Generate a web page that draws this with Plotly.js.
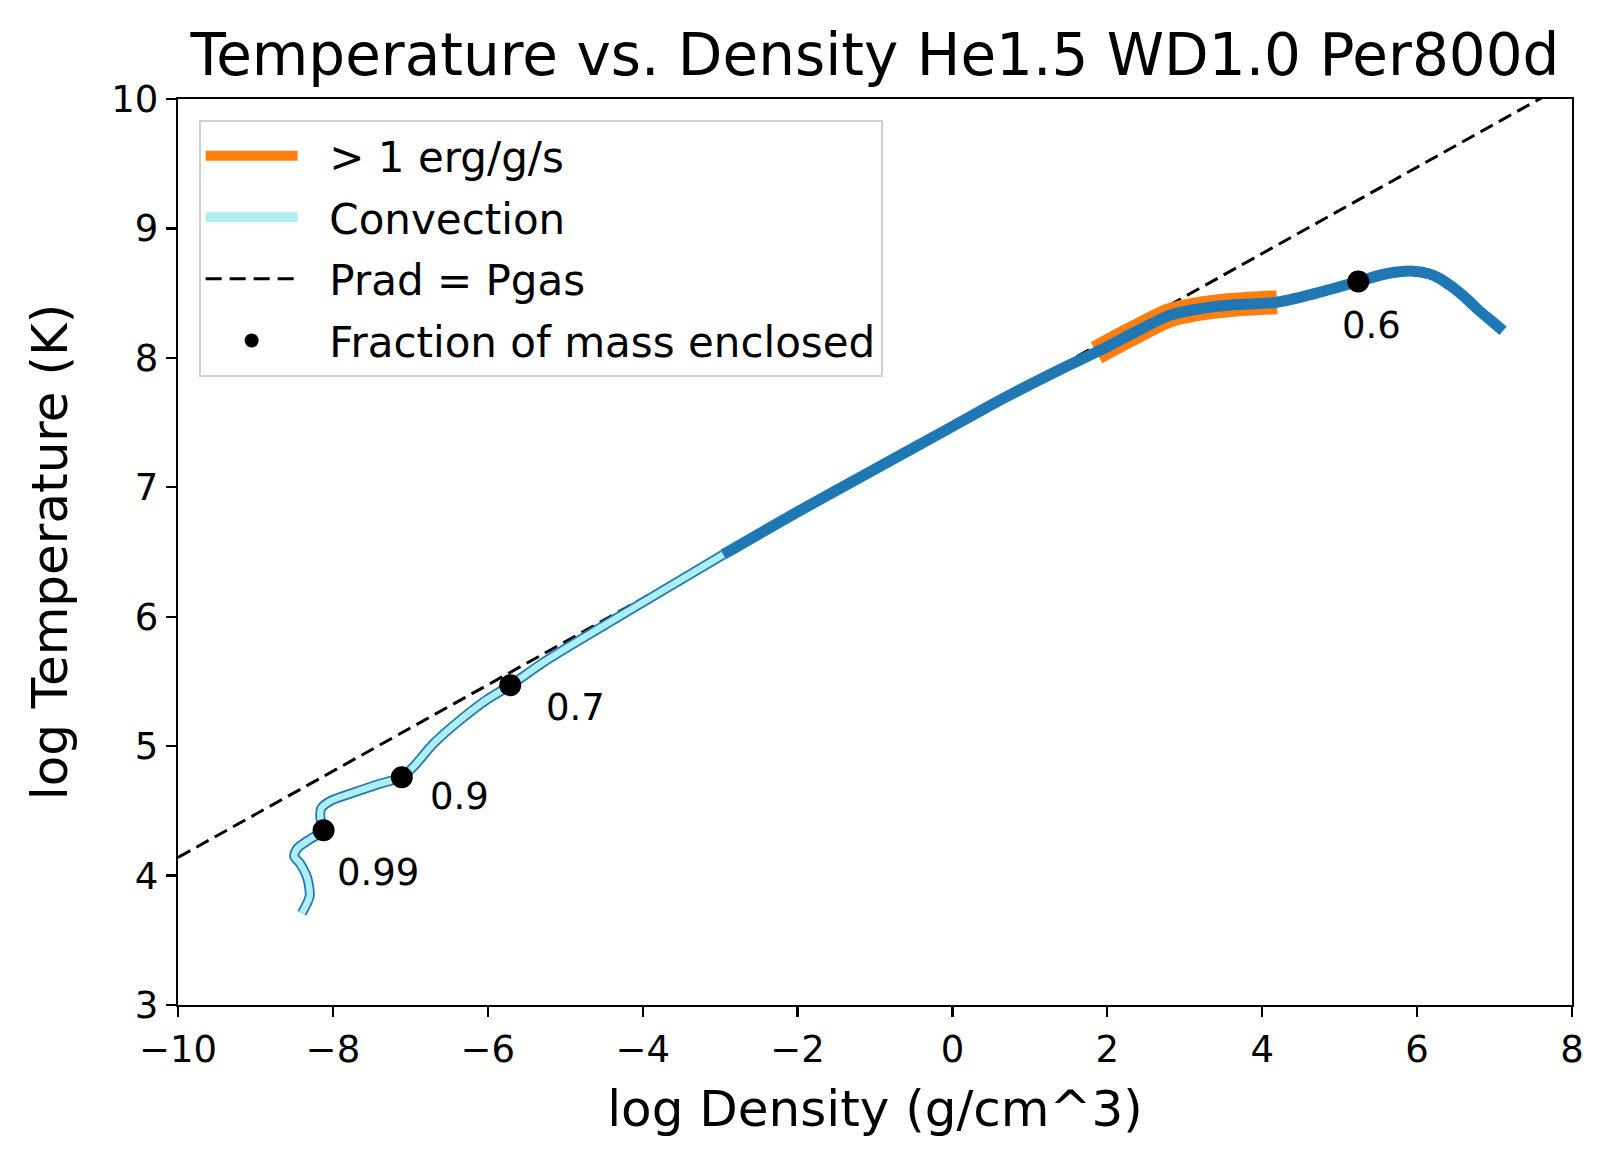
<!DOCTYPE html>
<html>
<head>
<meta charset="utf-8">
<script src="https://cdn.plot.ly/plotly-3.0.1.min.js"></script>
<style>html,body{margin:0;padding:0;background:#fff;}#chart{width:1615px;height:1169px;}</style>
</head>
<body>
<div id="chart"></div>
<script>
// Convective outer layer (log rho, log T)
const convX = [-8.40, -8.30, -8.33, -8.42, -8.50, -8.46, -8.30, -8.12, -8.16, -8.15, -8.02, -7.74, -7.39, -7.11, -6.96, -6.70, -6.36, -6.01, -5.71, -5.30, -4.98, -4.00, -2.96];
const convY = [3.71, 3.84, 3.98, 4.09, 4.15, 4.21, 4.28, 4.35, 4.44, 4.52, 4.58, 4.64, 4.71, 4.76, 4.84, 5.02, 5.20, 5.36, 5.47, 5.64, 5.76, 6.11, 6.48];
// Radiative interior
const radX = [-2.96, -2.00, -1.00, 0.00, 0.70, 1.39, 1.91, 2.33, 2.81, 3.20, 3.62, 4.19, 4.70, 5.24, 5.60, 5.95, 6.15, 6.30, 6.47, 6.65, 6.81, 6.95, 7.11];
const radY = [6.48, 6.81, 7.14, 7.47, 7.70, 7.91, 8.06, 8.19, 8.33, 8.38, 8.41, 8.43, 8.50, 8.59, 8.65, 8.67, 8.65, 8.61, 8.54, 8.45, 8.36, 8.29, 8.21];
// Burning region (> 1 erg/g/s)
const burnX = [1.86, 2.33, 2.81, 3.20, 3.62, 4.19];
const burnY = [8.04, 8.19, 8.33, 8.38, 8.41, 8.43];
// Prad = Pgas
const pradX = [-10, 8];
const pradY = [4.14, 10.14];
// Fraction of mass enclosed markers
const fracX = [-8.12, -7.11, -5.71, 5.24];
const fracY = [4.35, 4.76, 5.47, 8.59];
const fracLabels = ["0.99", "0.9", "0.7", "0.6"];
const fracLabelX = [-7.97, -6.77, -5.28, 5.00];
const fracLabelY = [4.02, 4.61, 5.30, 8.25];
// Legend labels
const legendNames = ['> 1 erg/g/s', 'Convection', 'Prad = Pgas', 'Fraction of mass enclosed'];

const BLUE = '#1f77b4', ORANGE = '#ff7f0e', CYAN = '#afeeee';
const PAD = '\u00a0\u00a0';

const traces = [
  {x: pradX, y: pradY, mode: 'lines', line: {color: 'black', width: 3, dash: '14px,7px'}, showlegend: false, hoverinfo: 'skip'},
  {x: burnX, y: burnY, mode: 'lines', line: {color: ORANGE, width: 24, shape: 'spline', smoothing: 0.8}, showlegend: false, hoverinfo: 'skip'},
  {x: radX, y: radY, mode: 'lines', line: {color: BLUE, width: 11, shape: 'spline', smoothing: 0.8}, showlegend: false, hoverinfo: 'skip'},
  {x: convX, y: convY, mode: 'lines', line: {color: BLUE, width: 10, shape: 'spline', smoothing: 0.7}, showlegend: false, hoverinfo: 'skip'},
  {x: convX, y: convY, mode: 'lines', line: {color: CYAN, width: 6.5, shape: 'spline', smoothing: 0.7}, showlegend: false, hoverinfo: 'skip'},
  {x: fracX, y: fracY, mode: 'markers', marker: {color: 'black', size: 22}, showlegend: false, hoverinfo: 'skip'},
  // legend entries
  {x: [null], y: [null], mode: 'lines', name: PAD + legendNames[0], line: {color: ORANGE, width: 12}, legendrank: 1, legendgroup: 'a'},
  {x: [null], y: [null], mode: 'lines', name: PAD + legendNames[1], line: {color: CYAN, width: 12}, legendrank: 2, legendgroup: 'b'},
  {x: [null], y: [null], mode: 'lines', name: PAD + legendNames[2], line: {color: 'black', width: 3, dash: '16px,8px'}, legendrank: 3, legendgroup: 'c'},
  {x: [null], y: [null], mode: 'markers', name: PAD + legendNames[3], marker: {color: 'black', size: 14}, legendrank: 4, legendgroup: 'd'}
];

const annotations = fracLabels.map((t, i) => ({
  x: fracLabelX[i], y: fracLabelY[i], xref: 'x', yref: 'y', text: t, showarrow: false,
  xanchor: 'left', yanchor: 'middle', font: {size: 37, color: 'black', family: 'DejaVu Sans'}
}));

const axisCommon = {
  showgrid: false, zeroline: false, showline: true, linecolor: 'black', linewidth: 2.2, mirror: true,
  ticks: 'outside', ticklen: 10, tickwidth: 2.2, tickcolor: 'black',
  tickfont: {size: 37, color: 'black', family: 'DejaVu Sans'}
};

const layout = {
  width: 1615, height: 1169,
  margin: {l: 178, r: 43, t: 99, b: 164},
  paper_bgcolor: 'white', plot_bgcolor: 'white',
  font: {family: 'DejaVu Sans', color: 'black'},
  title: {text: 'Temperature vs. Density He1.5 WD1.0 Per800d', x: 0.5, xref: 'paper', xanchor: 'center',
          y: 1 - 55/1169, yref: 'container', yanchor: 'middle', font: {size: 58, color: 'black', family: 'DejaVu Sans'}},
  xaxis: Object.assign({}, axisCommon, {range: [-10, 8], tickvals: [-10, -8, -6, -4, -2, 0, 2, 4, 6, 8],
          title: {text: 'log Density (g/cm^3)', standoff: 22, font: {size: 50, color: 'black', family: 'DejaVu Sans'}}}),
  yaxis: Object.assign({}, axisCommon, {range: [3, 10], tickvals: [3, 4, 5, 6, 7, 8, 9, 10],
          title: {text: 'log Temperature (K)', standoff: 28, font: {size: 50, color: 'black', family: 'DejaVu Sans'}}}),
  showlegend: true,
  legend: {x: 0.0148, y: 0.977, xanchor: 'left', yanchor: 'top', bgcolor: 'rgba(255,255,255,0.8)',
           bordercolor: '#d0d0d0', borderwidth: 2, font: {size: 42, color: 'black', family: 'DejaVu Sans'},
           traceorder: 'grouped', tracegroupgap: 4, itemwidth: 92},
  annotations: annotations
};

Plotly.newPlot('chart', traces, layout, {staticPlot: true, displayModeBar: false});
</script>
</body>
</html>
